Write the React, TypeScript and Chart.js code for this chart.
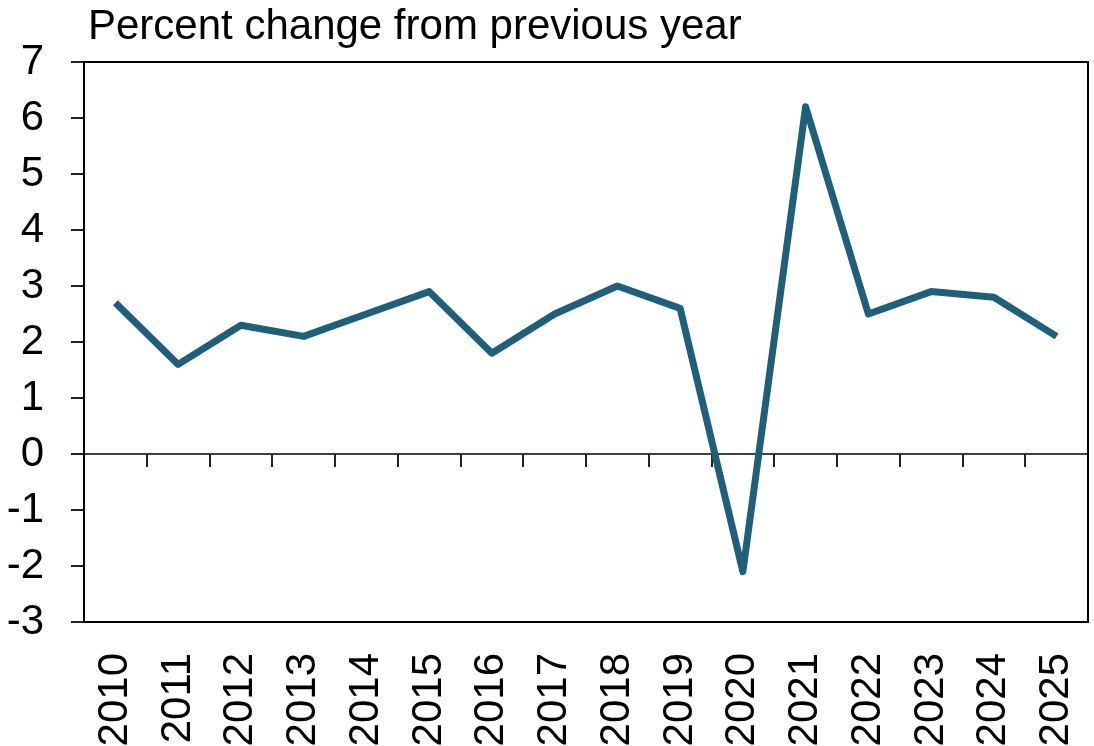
import React, { useEffect, useRef } from "react";
import { Chart, registerables } from "chart.js";

Chart.register(...registerables);

const years = ["2010","2011","2012","2013","2014","2015","2016","2017","2018","2019","2020","2021","2022","2023","2024","2025"];
const pctChange = [2.7, 1.6, 2.3, 2.1, 2.5, 2.9, 1.8, 2.5, 3.0, 2.6, -2.1, 6.2, 2.5, 2.9, 2.8, 2.1];
const titleText = "Percent change from previous year";
const yMin = -3;
const yMax = 7;

const FONT = "'Liberation Sans', Arial, Helvetica, sans-serif";

const framePlugin = {
  id: "frameAndZero",
  beforeDatasetsDraw(chart: any) {
    const { ctx, chartArea, scales } = chart;
    const x = scales.x;
    const y = scales.y;
    const y0 = y.getPixelForValue(0);
    ctx.save();
    ctx.strokeStyle = "#000";
    ctx.lineWidth = 1.5;
    ctx.beginPath();
    ctx.moveTo(chartArea.left, y0);
    ctx.lineTo(chartArea.right, y0);
    ctx.stroke();
    ctx.lineWidth = 2;
    ctx.strokeStyle = "#222";
    for (let i = 0; i < years.length - 1; i++) {
      const px = Math.round((x.getPixelForTick(i) + x.getPixelForTick(i + 1)) / 2);
      ctx.beginPath();
      ctx.moveTo(px, y0);
      ctx.lineTo(px, y0 + 13);
      ctx.stroke();
    }
    ctx.restore();
  },
  afterDatasetsDraw(chart: any) {
    const { ctx, chartArea } = chart;
    ctx.save();
    ctx.strokeStyle = "#000";
    ctx.lineWidth = 2;
    ctx.strokeRect(chartArea.left, chartArea.top, chartArea.right - chartArea.left, chartArea.bottom - chartArea.top);
    ctx.fillStyle = "#000";
    ctx.font = `42px ${FONT}`;
    ctx.textBaseline = "alphabetic";
    ctx.textAlign = "left";
    ctx.fillText(titleText, 88, 39);
    ctx.restore();
  },
};

export default function App() {
  const ref = useRef<HTMLCanvasElement | null>(null);

  useEffect(() => {
    if (!ref.current) return;
    const chart = new Chart(ref.current, {
      type: "line",
      data: {
        labels: years,
        datasets: [
          {
            data: pctChange,
            borderColor: "#1F5F7A",
            backgroundColor: "#1F5F7A",
            borderWidth: 7,
            pointRadius: 0,
            borderJoinStyle: "round",
            borderCapStyle: "butt",
            tension: 0,
          },
        ],
      },
      options: {
        responsive: false,
        animation: false,
        layout: { padding: { top: 62, right: 6, bottom: 0, left: 0 } },
        plugins: {
          legend: { display: false },
          tooltip: { enabled: false },
          title: { display: false },
        },
        scales: {
          x: {
            type: "category",
            offset: true,
            grid: { display: false, drawTicks: false },
            border: { display: false },
            ticks: {
              color: "#000",
              font: { family: FONT, size: 42 },
              maxRotation: 90,
              minRotation: 90,
              padding: 31,
              autoSkip: false,
            },
            afterFit(scale: any) {
              scale.height = 124;
              scale.paddingLeft = 0;
              scale.paddingRight = 0;
            },
          },
          y: {
            min: yMin,
            max: yMax,
            grid: {
              drawOnChartArea: false,
              drawTicks: true,
              tickLength: 13,
              color: "#222",
              lineWidth: 2,
            },
            border: { display: false },
            ticks: {
              stepSize: 1,
              color: "#000",
              font: { family: FONT, size: 42 },
              padding: 27,
            },
            afterFit(scale: any) {
              scale.width = 84;
              scale.paddingTop = 0;
              scale.paddingBottom = 0;
            },
          },
        },
      },
      plugins: [framePlugin],
    });
    return () => chart.destroy();
  }, []);

  return (
    <div style={{ position: "absolute", left: 0, top: 0, width: 1094, height: 746, background: "#fff" }}>
      <canvas ref={ref} width={1094} height={746} />
    </div>
  );
}
